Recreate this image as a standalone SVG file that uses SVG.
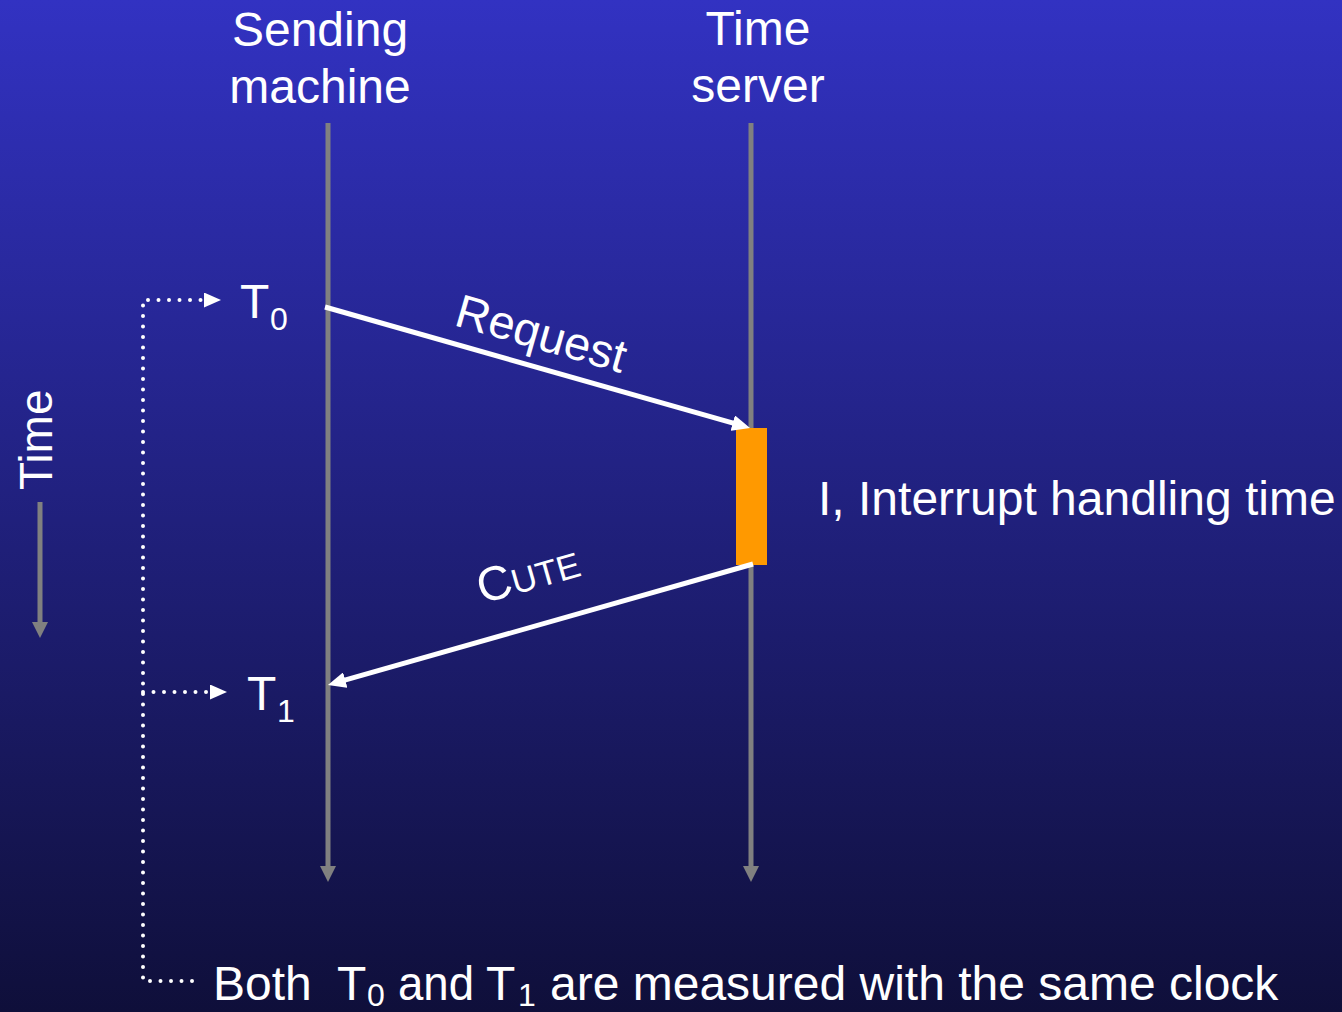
<svg xmlns="http://www.w3.org/2000/svg" width="1342" height="1012" viewBox="0 0 1342 1012">
  <defs>
    <linearGradient id="bg" x1="0" y1="0" x2="0" y2="1">
      <stop offset="0" stop-color="#3232c2"/>
      <stop offset="1" stop-color="#0f0f3a"/>
    </linearGradient>
    <marker id="whiteHead" markerUnits="userSpaceOnUse" markerWidth="18" markerHeight="16" refX="6" refY="8" orient="auto">
      <path d="M0,0 L18,8 L0,16 z" fill="#ffffff"/>
    </marker>
    <marker id="grayHead" markerUnits="userSpaceOnUse" markerWidth="16" markerHeight="16" refX="4" refY="8" orient="auto">
      <path d="M0,0 L16,8 L0,16 z" fill="#808080"/>
    </marker>
    <marker id="dotHead" markerUnits="userSpaceOnUse" markerWidth="17" markerHeight="15" refX="0" refY="7.5" orient="auto">
      <path d="M0,0 L17,7.5 L0,15 z" fill="#ffffff"/>
    </marker>
    <style>
      .t { font-family: "Liberation Sans", Arial, Helvetica, sans-serif; fill: #ffffff; }
      .big { font-size: 48px; }
      .sub { font-size: 32px; }
      .life { stroke: #808080; stroke-width: 5; fill: none; marker-end: url(#grayHead); }
      .msg { stroke: #ffffff; stroke-width: 5; fill: none; marker-end: url(#whiteHead); }
      .dot { stroke: #ffffff; stroke-width: 4; fill: none; stroke-linecap: round; stroke-dasharray: 0 10.5; }
    </style>
  </defs>

  <rect x="0" y="0" width="1342" height="1012" fill="url(#bg)"/>

  <g id="sending-machine">
    <text class="t big" x="320" y="46" text-anchor="middle">Sending</text>
    <text class="t big" x="320" y="103" text-anchor="middle">machine</text>
    <path class="life" d="M328,123 V870"/>
  </g>

  <g id="time-server">
    <text class="t big" x="758" y="45" text-anchor="middle">Time</text>
    <text class="t big" x="758" y="102" text-anchor="middle">server</text>
    <path class="life" d="M751,123 V870"/>
  </g>

  <g id="interrupt-box">
    <rect x="736" y="428" width="31" height="137" fill="#ff9900"/>
  </g>

  <g id="interrupt-label">
    <text class="t big" x="818" y="515">I, Interrupt handling time</text>
  </g>

  <g id="t0-label">
    <text class="t big" x="240" y="318">T<tspan class="sub" x="270" y="330">0</tspan></text>
  </g>

  <g id="t1-label">
    <text class="t big" x="247" y="710">T<tspan class="sub" x="277" y="722">1</tspan></text>
  </g>

  <g id="time-axis">
    <text class="t" font-size="46" transform="translate(52,490) rotate(-90)">Time</text>
    <path class="life" d="M40,502 V626"/>
  </g>

  <g id="footnote">
    <text class="t big" y="1000"><tspan x="213">Both</tspan><tspan x="337">T</tspan><tspan class="sub" x="367" y="1006">0</tspan><tspan x="398" y="1000" textLength="76" lengthAdjust="spacingAndGlyphs">and</tspan><tspan x="486">T</tspan><tspan class="sub" x="518" y="1006">1</tspan><tspan x="550" y="1000">are measured with the same clock</tspan></text>
  </g>

  <g id="connectors">
    <path class="msg" d="M325,307 L738.5,424.7"/>
    <path class="msg" d="M753,564 L339.5,681.7"/>
    <path class="dot" d="M192,981 H143 V300 H204"/>
    <path d="M200,300 H204" stroke="none" fill="none" marker-end="url(#dotHead)"/>
    <path class="dot" d="M143,692 H210"/>
    <path d="M206,692 H210" stroke="none" fill="none" marker-end="url(#dotHead)"/>
    <text class="t" font-size="47" transform="translate(537,349) rotate(15.9)" text-anchor="middle">Request</text>
    <text class="t big" transform="translate(482,604) rotate(-15.9)">C<tspan font-size="35">UTE</tspan></text>
  </g>
</svg>
